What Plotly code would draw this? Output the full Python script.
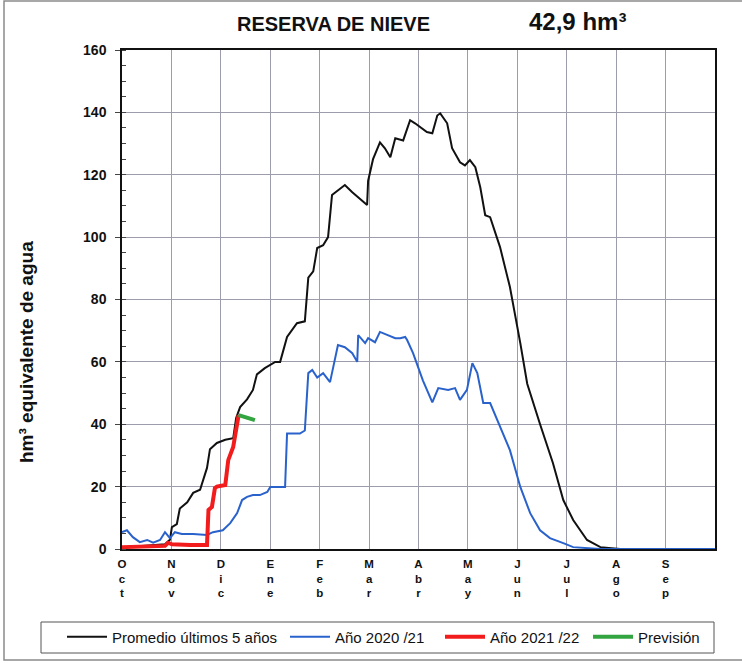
import plotly.graph_objects as go

# x positions are in months since 1 October (0 = Oct 1, 12 = Sep 30)
month_labels = ["Oct", "Nov", "Dic", "Ene", "Feb", "Mar", "Abr", "May", "Jun", "Jul", "Ago", "Sep"]

prom_x = [0, 0.26, 0.57, 0.87, 0.97, 1.01, 1.11, 1.17, 1.32, 1.44, 1.58, 1.72, 1.78, 1.92, 2.09,
          2.25, 2.31, 2.39, 2.53, 2.65, 2.73, 2.89, 3.10, 3.20, 3.34, 3.54, 3.70, 3.77, 3.87, 3.95,
          4.07, 4.17, 4.25, 4.37, 4.51, 4.66, 4.78, 4.96, 4.98, 5.08, 5.22, 5.32, 5.43, 5.53, 5.69,
          5.83, 5.93, 6.03, 6.17, 6.28, 6.38, 6.44, 6.58, 6.68, 6.84, 6.94, 7.04, 7.15, 7.25, 7.35,
          7.45, 7.65, 7.85, 8.06, 8.20, 8.46, 8.72, 8.93, 9.13, 9.41, 9.68, 10.08, 12.0]
prom_y = [0.5, 0.8, 1.0, 1.5, 3, 7, 8, 13, 15, 18, 19, 26, 32, 34, 35,
          35.5, 42, 45.5, 48, 51, 56, 58, 60, 60, 68, 72.4, 73, 87, 89, 96.5,
          97.4, 100, 113.5, 115, 116.7, 114.4, 112.8, 110.3, 118, 125, 130.4, 128.5, 125.6, 131.7, 131,
          137.5, 136.5, 135.3, 133.7, 133.3, 139, 139.7, 136.5, 128.5, 124, 123, 124.7, 122.4, 116, 107,
          106.4, 96.8, 84, 66, 53, 40, 27.6, 15.7, 9.3, 2.9, 0.6, 0, 0]

y2021_x = [0.0, 0.10, 0.22, 0.36, 0.51, 0.63, 0.77, 0.87, 0.97, 1.07, 1.21, 1.44, 1.72, 1.84, 2.04,
           2.19, 2.33, 2.43, 2.53, 2.65, 2.79, 2.94, 3.00, 3.30, 3.34, 3.60, 3.70, 3.77, 3.85, 3.95,
           4.07, 4.21, 4.37, 4.51, 4.66, 4.76, 4.78, 4.92, 4.98, 5.12, 5.22, 5.36, 5.53, 5.63, 5.73,
           5.77, 5.89, 6.09, 6.28, 6.40, 6.60, 6.74, 6.84, 6.98, 7.09, 7.19, 7.31, 7.45, 7.65, 7.85,
           8.06, 8.26, 8.46, 8.66, 8.93, 9.13, 9.68, 12.0]
y2021_y = [5.4, 6, 3.8, 2.2, 2.9, 2, 2.9, 5.4, 3.5, 5.4, 4.8, 4.8, 4.5, 5.4, 6,
           8.3, 11.5, 15.7, 16.7, 17.3, 17.3, 18.3, 19.9, 19.9, 37, 37, 38, 56.4, 57.4, 55,
           56.4, 53.5, 65.4, 64.7, 62.8, 60, 68.6, 66, 67.6, 66.3, 69.6, 68.6, 67.6, 67.6, 68,
           67, 62.8, 54, 47, 51.6, 51, 51.6, 47.8, 51, 59.6, 56.4, 46.8, 46.8, 39, 31.7,
           19.9, 11.5, 6, 3.5, 1.9, 0.6, 0, 0]

y2122_x = [0.0, 0.57, 0.87, 0.93, 1.01, 1.38, 1.72, 1.75, 1.82, 1.88, 1.92, 2.09, 2.15, 2.25, 2.29, 2.36]
y2122_y = [0.6, 0.8, 1.0, 2.0, 1.5, 1.3, 1.3, 12.5, 13.5, 19.5, 20, 20.5, 28.5, 32.7, 37, 42.9]

prev_x = [2.36, 2.69]
prev_y = [42.9, 41.3]

FONT = "Liberation Sans, Arial, sans-serif"

# plot-area geometry in page pixels (used only to place decorations in paper coords)
L, R, T, B = 122, 715, 50, 549


def px(x):
    return (x - L) / (R - L)


def py(y):
    return (B - y) / (B - T)


fig = go.Figure()
fig.add_trace(go.Scatter(x=prom_x, y=prom_y, mode="lines", name="Promedio últimos 5 años",
                         line=dict(color="#111111", width=2), legendwidth=168))
fig.add_trace(go.Scatter(x=y2021_x, y=y2021_y, mode="lines", name="Año 2020 /21",
                         line=dict(color="#2a62cc", width=2), legendwidth=100))
fig.add_trace(go.Scatter(x=y2122_x, y=y2122_y, mode="lines", name="Año 2021 /22",
                         line=dict(color="#f21c1c", width=4), legendwidth=93))
fig.add_trace(go.Scatter(x=prev_x, y=prev_y, mode="lines", name="Previsión",
                         line=dict(color="#33a540", width=4)))

ticktext = ["<br>".join(list(m)) for m in month_labels]

fig.update_layout(
    width=742, height=665,
    margin=dict(l=L, r=742 - R, t=T, b=665 - B),
    paper_bgcolor="white", plot_bgcolor="white",
    font=dict(family=FONT, color="#111111"),
    showlegend=True,
    legend=dict(orientation="h", x=px(62), xanchor="left", y=py(637), yanchor="middle",
                font=dict(size=15, family=FONT), borderwidth=0,
                bgcolor="rgba(0,0,0,0)", itemwidth=40, tracegroupgap=0),
    xaxis=dict(range=[0, 12], tickmode="array", tickvals=list(range(12)), ticktext=ticktext,
               tickfont=dict(size=11.5, family=FONT, weight="bold"),
               showgrid=True, gridcolor="#9c9cab", gridwidth=1,
               showline=True, linecolor="#111111", linewidth=1.5, mirror=True,
               ticks="", zeroline=False, tickangle=0, ticklabelstandoff=3),
    yaxis=dict(range=[0, 160], tickmode="linear", dtick=20, tick0=0,
               tickfont=dict(size=14, family=FONT, weight="bold"),
               showgrid=True, gridcolor="#9c9cab", gridwidth=1,
               showline=True, linecolor="#111111", linewidth=1.5, mirror=True,
               ticks="outside", ticklen=5, tickcolor="#444444", ticklabelstandoff=6,
               minor=dict(dtick=5, ticks="inside", ticklen=4, tickcolor="#444444", showgrid=False),
               zeroline=False),
    annotations=[
        dict(text="<b>RESERVA DE NIEVE</b>", x=px(333), y=py(24),
             xref="paper", yref="paper", showarrow=False, font=dict(size=20, family=FONT),
             xanchor="center", yanchor="middle"),
        dict(text="<b>42,9 hm³</b>", x=px(577), y=py(22),
             xref="paper", yref="paper", showarrow=False, font=dict(size=24, family=FONT),
             xanchor="center", yanchor="middle"),
        dict(text="<b>hm³ equivalente de agua</b>", x=px(27), y=py(352),
             xref="paper", yref="paper", showarrow=False, textangle=-90,
             font=dict(size=19, family=FONT), xanchor="center", yanchor="middle"),
    ],
    shapes=[
        dict(type="rect", xref="paper", yref="paper",
             x0=px(4), x1=px(760), y0=py(660), y1=py(1),
             line=dict(color="#8a8a8a", width=1.5), fillcolor="rgba(0,0,0,0)", layer="below"),
        dict(type="rect", xref="paper", yref="paper",
             x0=px(41), x1=px(714), y0=py(653), y1=py(622),
             line=dict(color="#555555", width=1), fillcolor="rgba(0,0,0,0)", layer="below"),
    ],
)

fig.write_html("out.html", config={"displayModeBar": False},
               post_script="document.body.style.margin='0';")
